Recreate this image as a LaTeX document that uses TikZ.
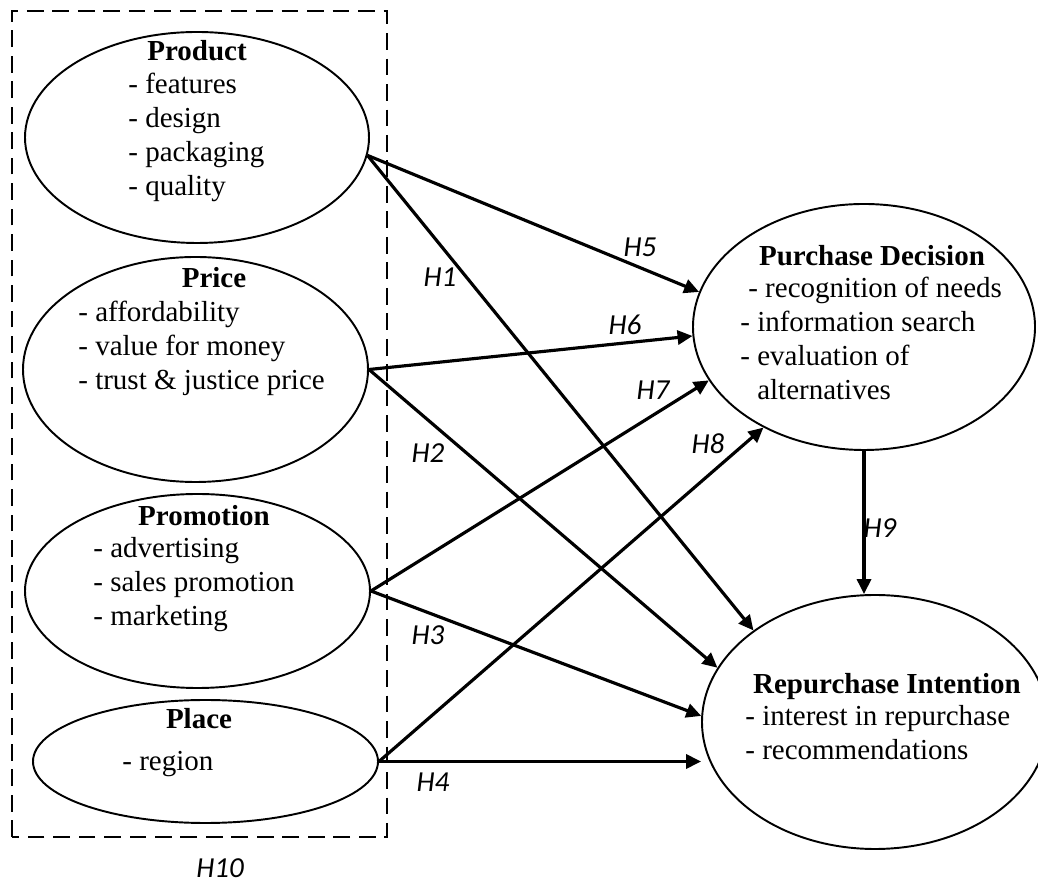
\documentclass[tikz,border=0pt]{standalone}
\usepackage{fontspec}
\setmainfont{Liberation Serif}
\newfontfamily\hypfont{Carlito}
\usetikzlibrary{shapes.geometric, arrows.meta}

\begin{document}
\begin{tikzpicture}[
      every node/.style={font=\fontsize{16.5}{19.4}\selectfont, inner sep=0pt},
      construct/.style={draw, ellipse, line width=1.1pt},
      title/.style={font=\fontsize{16.5}{19.4}\selectfont\bfseries, anchor=base},
      items/.style={align=left, anchor=base west},
      hyp/.style={font=\hypfont\itshape\fontsize{16.5}{19.4}\selectfont},
      link/.style={-{Triangle[length=8.5pt,width=8pt]}, line width=1.8pt}]
    \useasboundingbox (0,0) rectangle (20.76,17.64);

    % marketing mix (H10 box)
    \draw[line width=1.2pt, dash pattern=on 9.5pt off 5pt] (0.24,0.90) rectangle (7.74,17.42);
    \node[hyp] (h10) at (4.40,0.28) {H10};

    % items nodes sit on the baseline of their last line
    \node[construct, minimum width=6.88cm, minimum height=4.22cm] (product) at (3.94,14.89) {};
    \node[title] (product-t) at (3.94,16.42) {Product};
    \node[items] (product-l) at (2.56,13.72) {- features\\- design\\- packaging\\- quality};

    \node[construct, minimum width=6.90cm, minimum height=4.50cm] (price) at (3.91,10.25) {};
    \node[title] (price-t) at (4.28,11.88) {Price};
    \node[items] (price-l) at (1.56,9.84) {- affordability\\- value for money\\- trust \& justice price};

    \node[construct, minimum width=6.90cm, minimum height=3.88cm] (promo) at (3.95,5.82) {};
    \node[title] (promo-t) at (4.08,7.12) {Promotion};
    \node[items] (promo-l) at (1.86,5.12) {- advertising\\- sales promotion\\- marketing};

    \node[construct, minimum width=6.90cm, minimum height=2.46cm] (place) at (4.11,2.41) {};
    \node[title] (place-t) at (3.98,3.06) {Place};
    \node[items] (place-l) at (2.44,2.22) {- region};

    % outcomes
    \node[construct, minimum width=6.84cm, minimum height=4.92cm] (pd) at (17.28,11.10) {};
    \node[title] (pd-t) at (17.44,12.32) {Purchase Decision};
    \node[items] (pd-l) at (14.80,9.64)
          {\hspace*{0.16cm}- recognition of needs\\- information search\\- evaluation of\\\phantom{- }alternatives};

    \node[construct, minimum width=6.92cm, minimum height=5.08cm] (ri) at (17.50,3.20) {};
    \node[title] (ri-t) at (17.74,3.76) {Repurchase Intention};
    \node[items] (ri-l) at (14.90,2.44) {- interest in repurchase\\- recommendations};

    % hypotheses
    \draw[link] (product.-6) -- (ri.143);
    \draw[link] (product.-6) -- (pd.168);
    \draw[link] (price.east) -- (pd.183);
    \draw[link] (price.east) -- (ri.161);
    \draw[link] (promo.east) -- (pd.199);
    \draw[link] (promo.east) -- (ri.178);
    \draw[link] (place.east) -- (pd.225);
    \draw[link] (place.east) -- (place.east -| ri.west);
    \draw[link] (pd.south) -- (pd.south |- ri.north);

    \node[hyp] (h1) at (8.80,12.10) {H1};
    \node[hyp] (h2) at (8.56,8.58) {H2};
    \node[hyp] (h3) at (8.56,4.94) {H3};
    \node[hyp] (h4) at (8.66,2.00) {H4};
    \node[hyp] (h5) at (12.80,12.70) {H5};
    \node[hyp] (h6) at (12.50,11.14) {H6};
    \node[hyp] (h7) at (13.06,9.84) {H7};
    \node[hyp] (h8) at (14.16,8.76) {H8};
    \node[hyp] (h9) at (17.60,7.08) {H9};
  \end{tikzpicture}
\end{document}
